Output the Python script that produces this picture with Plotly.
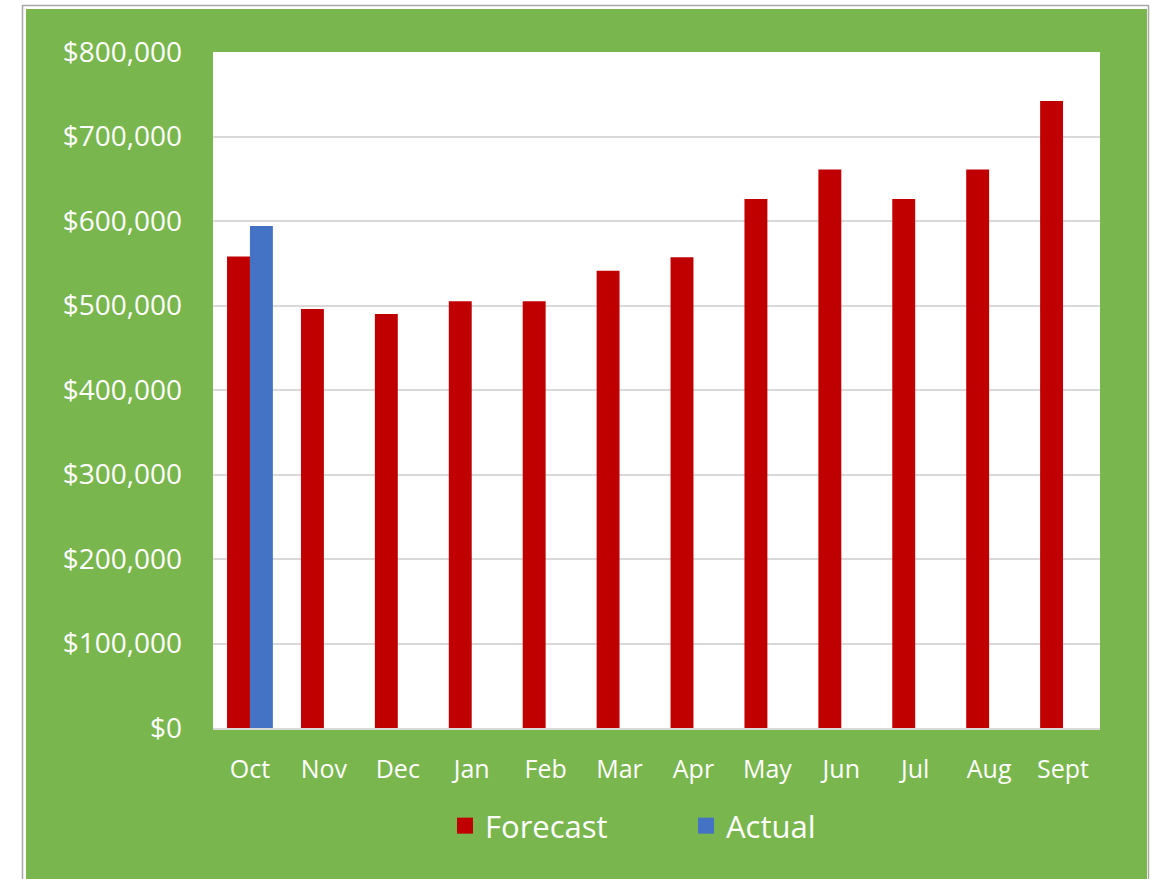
import plotly.graph_objects as go

months = ["Oct", "Nov", "Dec", "Jan", "Feb", "Mar", "Apr", "May", "Jun", "Jul", "Aug", "Sept"]
forecast = [558000, 496000, 490000, 505000, 505000, 541000, 557000, 626000, 661000, 626000, 661000, 742000]
actual = [594000, None, None, None, None, None, None, None, None, None, None, None]

RED = "#c00000"
BLUE = "#4472c4"
GREEN = "#7ab64e"
FONT = "Open Sans"

W, H = 1151, 879
L, R, T, B = 213, 1100, 52, 728

def px_x(p):
    return (p - L) / (R - L)

def px_y(p):
    return (B - p) / (B - T)

fig = go.Figure()
fig.add_trace(go.Bar(x=months, y=forecast, name="Forecast", marker=dict(color=RED, line=dict(width=0)), showlegend=False))
fig.add_trace(go.Bar(x=months, y=actual, name="Actual", marker=dict(color=BLUE, line=dict(width=0)), showlegend=False))
# legend proxies
fig.add_trace(go.Scatter(x=[None], y=[None], mode="markers", name="Forecast",
                         marker=dict(symbol="square", size=19, color=RED)))
fig.add_trace(go.Scatter(x=[None], y=[None], mode="markers", name="Actual",
                         marker=dict(symbol="square", size=19, color=BLUE)))

shapes = [
    dict(type="rect", xref="paper", yref="paper", x0=px_x(22.5), x1=px_x(1148.5), y0=px_y(5.5), y1=px_y(890),
         line=dict(color="#a8a8a8", width=1.5), fillcolor="rgba(0,0,0,0)", layer="below"),
    dict(type="rect", xref="paper", yref="paper", x0=px_x(26), x1=px_x(1147), y0=px_y(9), y1=px_y(890),
         line=dict(width=0), fillcolor=GREEN, layer="below"),
    dict(type="rect", xref="paper", yref="paper", x0=0, x1=1, y0=0, y1=1,
         line=dict(width=0), fillcolor="white", layer="below"),
]

fig.update_layout(
    width=W, height=H,
    margin=dict(l=L, r=W - R, t=T, b=H - B),
    paper_bgcolor="white",
    plot_bgcolor="white",
    barmode="group",
    bargap=0.38,
    bargroupgap=0,
    font=dict(family=FONT, size=28, color="white"),
    shapes=shapes,
    legend=dict(orientation="h", x=px_x(445), xanchor="left", y=px_y(826), yanchor="middle",
                font=dict(family=FONT, size=31, color="white"), bgcolor="rgba(0,0,0,0)",
                itemsizing="trace", entrywidth=196, entrywidthmode="pixels"),
    xaxis=dict(showgrid=False, showline=True, linecolor="#d9d9d9", linewidth=2,
               ticks="", tickfont=dict(family=FONT, size=25, color="white"), ticklabelstandoff=18),
    yaxis=dict(range=[0, 800000], dtick=100000, tickprefix="$", tickformat=",",
               showgrid=True, gridcolor="#d9d9d9", gridwidth=2, zeroline=False,
               ticks="", tickfont=dict(family=FONT, size=28, color="white"), ticklabelstandoff=30),
)

fig.write_html("out.html", config={"displayModeBar": False},
               post_script="document.body.style.margin='0px';document.body.style.overflow='hidden';")
